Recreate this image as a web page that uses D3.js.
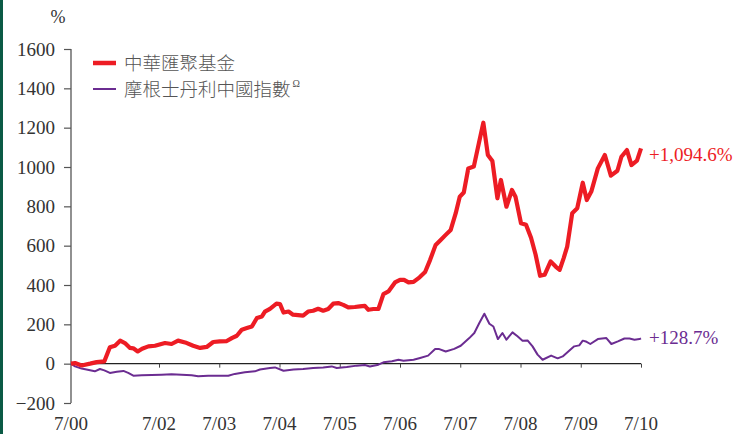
<!DOCTYPE html>
<html><head><meta charset="utf-8">
<script src="https://cdn.jsdelivr.net/npm/d3@7"></script>
<style>body{margin:0;background:#fff}svg{display:block}</style>
</head><body><div id="chart"></div>
<script>
// months since 7/2000
const fundMonths = [0,1.1,2.9,5.2,7.0,9.1,10.6,12.0,13.4,14.7,16.1,17.0,18.2,19.4,21.1,22.9,25.2,26.5,27.8,29.2,30.8,32.2,33.5,34.8,36.1,37.5,38.5,39.5,40.5,41.5,42.5,43.5,44.5,45.1,46.1,47.4,48.1,48.8,49.8,50.7,51.7,52.7,53.7,54.7,55.7,56.7,57.7,58.7,59.7,60.7,61.7,63.0,64.0,65.0,65.7,66.7,67.7,68.7,69.7,71.0,72.0,72.8,73.7,74.7,75.9,77.0,78.0,79.1,80.1,81.1,82.1,83.1,83.9,84.7,85.6,86.7,87.7,88.6,89.5,90.4,91.4,92.1,93.2,94.3,95.0,96.1,97.1,98.1,99.0,99.9,100.8,102.0,103.0,103.8,104.6,105.3,106.3,107.3,108.4,109.2,110.1,111.4,112.8,114.0,115.3,116.1,117.2,118.1,119.2,120];
const fundValues = [0,3,-9,0,8,12,83,91,117,105,80,78,62,76,88,91,105,100,117,108,91,80,85,110,113,115,130,142,173,181,189,232,240,265,279,305,303,260,265,249,247,244,265,269,279,269,278,305,308,299,286,288,291,294,274,278,278,354,367,413,426,426,413,416,439,466,528,604,629,655,680,765,849,870,993,1002,1120,1225,1061,1030,841,934,798,883,849,714,706,640,555,447,452,520,494,477,537,595,765,790,920,832,875,993,1061,956,981,1052,1086,1010,1032,1094.6];
const indexMonths = [0,1.1,2.9,5.2,6.5,7.9,9.1,10.6,12.5,14.3,15.6,17.0,19.3,22.0,24.5,26.5,28.5,30.5,31.8,33.8,35.8,37.8,39.1,41.1,43.1,44.1,46.1,47.1,48.8,50.8,52.7,54.7,56.7,58.4,59.4,61.4,63.4,65.0,66.0,67.7,68.7,70.4,71.7,72.7,74.7,76.0,77.6,79.0,79.7,81.1,82.8,84.1,85.8,86.8,87.8,88.8,89.8,90.6,91.5,92.4,93.2,94.4,95.4,96.4,97.4,98.4,99.4,100.4,102.1,103.4,104.4,106.7,107.7,108.4,109.0,109.9,111.4,113.1,114.1,115.4,116.7,117.7,118.7,119.7,120];
const indexValues = [0,-14,-25,-34,-39,-27,-34,-47,-41,-37,-47,-61,-59,-57,-56,-54,-56,-59,-64,-61,-61,-61,-52,-44,-39,-30,-22,-19,-36,-30,-27,-22,-19,-14,-22,-17,-10,-7,-14,-5,7,12,20,15,20,29,41,75,75,62,75,91,130,156,207,254,203,189,125,156,122,159,139,117,118,88,46,20,41,27,37,88,93,117,113,100,125,130,100,113,128,128,122,125,128.7];
const xTickMonths = [0,24,36,48,60,72,84,96,108,120];
const xTickLabels = ["7/00","7/02","7/03","7/04","7/05","7/06","7/07","7/08","7/09","7/10"];
const yTicks = [-200,0,200,400,600,800,1000,1200,1400,1600];
const seriesNames = ["中華匯聚基金","摩根士丹利中國指數"];
const endLabels = ["+1,094.6%","+128.7%"];

const W=748,H=434;
const svg=d3.select("#chart").append("svg").attr("width",W).attr("height",H);
const red="#ed1c24", purple="#6b2c91", txt="#333";
const serif="'Liberation Serif','Times New Roman',serif";
const cjk="'Noto Sans CJK TC','Noto Sans CJK SC',sans-serif";

svg.append("rect").attr("x",0).attr("y",0).attr("width",3).attr("height",H).attr("fill","#0b5a45");

const x=d3.scaleLinear().domain([0,24,120]).range([71,159,641]);
const y=d3.scaleLinear().domain([-200,1600]).range([403,49]);

// y axis
const ya=svg.append("g").attr("transform","translate(71,0)")
  .call(d3.axisLeft(y).tickValues(yTicks).tickSize(7).tickPadding(9).tickFormat(d3.format("d")));
ya.select(".domain").attr("stroke","#555").attr("stroke-width",1.3).attr("d","M0,"+y(1600)+"V"+y(-200));
ya.selectAll(".tick line").attr("stroke","#555").attr("stroke-width",1.2);
ya.selectAll("text").attr("font-family",serif).attr("font-size",19).attr("fill",txt);

// x zero axis
const xa=svg.append("g").attr("transform","translate(0,"+y(0)+")")
  .call(d3.axisBottom(x).tickValues(xTickMonths.slice(1)).tickSize(4).tickFormat(""));
xa.select(".domain").attr("stroke","#222").attr("stroke-width",1.2).attr("d","M"+x(0)+",0H"+x(120));
xa.selectAll(".tick line").attr("stroke","#444");

// x labels at bottom
svg.append("g").selectAll("text").data(xTickMonths).join("text")
  .attr("x",d=>x(d)).attr("y",430).attr("text-anchor","middle")
  .attr("font-family",serif).attr("font-size",19).attr("fill",txt)
  .text((d,i)=>xTickLabels[i]);

svg.append("text").attr("x",58).attr("y",23).attr("text-anchor","middle")
  .attr("font-family",serif).attr("font-size",18).attr("fill",txt).text("%");

const line=d3.line().x(d=>x(d[0])).y(d=>y(d[1]));
const idx=indexMonths.map((m,i)=>[m,indexValues[i]]);
const fund=fundMonths.map((m,i)=>[m,fundValues[i]]);
svg.append("path").datum(idx).attr("d",line).attr("fill","none").attr("stroke",purple).attr("stroke-width",2).attr("stroke-linejoin","round");
svg.append("path").datum(fund).attr("d",line).attr("fill","none").attr("stroke",red).attr("stroke-width",4.2).attr("stroke-linejoin","round");

// end labels
svg.append("text").attr("x",649).attr("y",y(fundValues[fundValues.length-1])+13)
  .attr("font-family",serif).attr("font-size",19).attr("fill",red).text(endLabels[0]);
svg.append("text").attr("x",649).attr("y",y(indexValues[indexValues.length-1])+6)
  .attr("font-family",serif).attr("font-size",19).attr("fill",purple).text(endLabels[1]);

// legend
const lg=svg.append("g");
lg.append("line").attr("x1",93).attr("x2",116).attr("y1",63).attr("y2",63).attr("stroke",red).attr("stroke-width",4.5);
lg.append("line").attr("x1",93).attr("x2",116).attr("y1",89).attr("y2",89).attr("stroke",purple).attr("stroke-width",2);
lg.append("text").attr("x",124).attr("y",70).attr("font-family",cjk).attr("font-size",18.5).attr("font-weight",300).attr("fill","#555").text(seriesNames[0]);
const t2=lg.append("text").attr("x",124).attr("y",96).attr("font-family",cjk).attr("font-size",18.5).attr("font-weight",300).attr("fill","#555").text(seriesNames[1]);
t2.append("tspan").attr("font-size",10).attr("dy",-9).attr("dx",2).attr("font-family",serif).text("Ω");
</script></body></html>
